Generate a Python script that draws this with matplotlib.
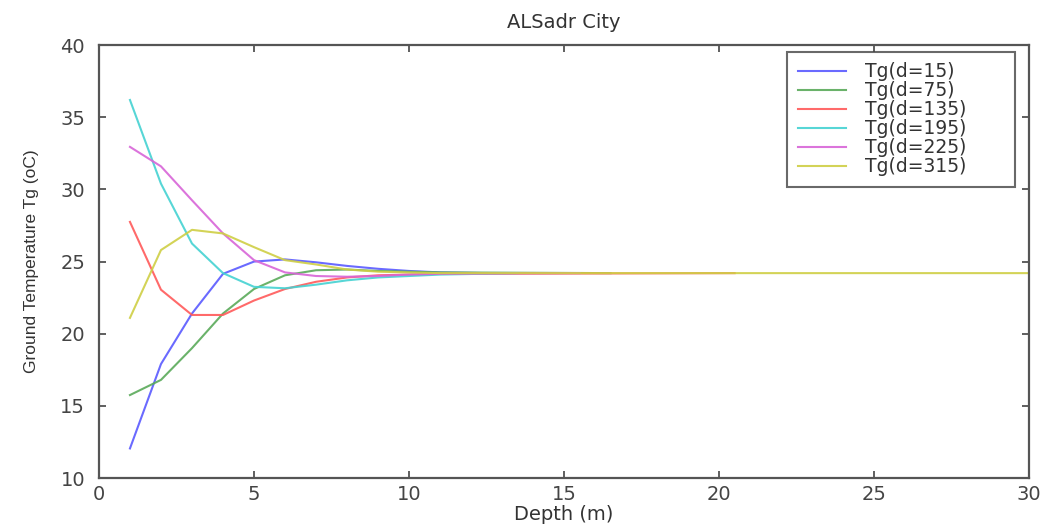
import matplotlib
matplotlib.use("Agg")
import matplotlib.pyplot as plt

plt.rcParams["font.family"] = ["DejaVu Sans"]

# Ground temperature (oC) vs depth (m)
labels = ["Tg(d=15)", "Tg(d=75)", "Tg(d=135)", "Tg(d=195)", "Tg(d=225)", "Tg(d=315)"]
colors = ["#5a5aff", "#5aaa5a", "#ff5a5a", "#45d2d2", "#d865d8", "#cfcf45"]

depth_d15 = [1, 2, 3, 4, 5, 6, 7, 8, 9, 10, 11, 12.5]
tg_d15 = [12.05, 17.9, 21.4, 24.15, 25.0, 25.15, 24.95, 24.7, 24.5, 24.35, 24.25, 24.2]

depth_d75 = [1, 2, 3, 4, 5, 6, 7, 8, 9, 10, 11, 16.5]
tg_d75 = [15.75, 16.8, 19.0, 21.4, 23.1, 24.05, 24.4, 24.45, 24.35, 24.3, 24.25, 24.2]

depth_d135 = [1, 2, 3, 4, 5, 6, 7, 8, 9, 10, 11, 20.5]
tg_d135 = [27.75, 23.05, 21.3, 21.3, 22.3, 23.1, 23.6, 23.9, 24.05, 24.1, 24.15, 24.2]

depth_d195 = [1, 2, 3, 4, 5, 6, 7, 8, 9, 10, 11, 13.5]
tg_d195 = [36.2, 30.4, 26.25, 24.2, 23.25, 23.15, 23.4, 23.7, 23.9, 24.0, 24.1, 24.2]

depth_d225 = [1, 2, 3, 4, 5, 6, 7, 8, 9, 10, 11, 15.5]
tg_d225 = [32.95, 31.6, 29.25, 26.95, 25.1, 24.25, 24.0, 23.95, 24.0, 24.1, 24.15, 24.2]

depth_d315 = [1, 2, 3, 4, 5, 6, 7, 8, 9, 10, 11, 30]
tg_d315 = [21.1, 25.8, 27.2, 26.95, 26.0, 25.1, 24.8, 24.45, 24.3, 24.25, 24.2, 24.2]

series = [
    (depth_d15, tg_d15),
    (depth_d75, tg_d75),
    (depth_d135, tg_d135),
    (depth_d195, tg_d195),
    (depth_d225, tg_d225),
    (depth_d315, tg_d315),
]

fig = plt.figure(figsize=(10.46, 5.25), dpi=100)
ax = fig.add_axes([0.0946, 0.0895, 0.8894, 0.8245])

for (x, y), lab, col in zip(series, labels, colors):
    ax.plot(x, y, color=col, lw=1.5, label=lab, alpha=0.9)

ax.set_xlim(0, 30)
ax.set_ylim(10, 40)
ax.set_xticks(range(0, 31, 5))
ax.set_yticks(range(10, 41, 5))
ax.tick_params(direction="in", top=True, right=True, length=5, width=1.2,
               labelsize=14, colors="#444444")
ax.tick_params(axis="y", pad=10)
ax.tick_params(axis="x", pad=5)
for s in ax.spines.values():
    s.set_color("#555555")
    s.set_linewidth(1.6)

ax.set_title("ALSadr City", fontsize=14, color="#333333", pad=12)
ax.set_xlabel("Depth (m)", fontsize=14, color="#333333", labelpad=1)
ax.set_ylabel("Ground Temperature Tg (oC)", fontsize=12.5,
              family=["Liberation Sans Narrow", "Liberation Sans", "DejaVu Sans"],
              color="#333333", labelpad=15)

# legend box spans a fixed region in the upper right corner
leg = ax.legend(loc="upper left", bbox_to_anchor=(0.7398, 0.5, 0.2452, 0.4838),
                mode="expand", fontsize=13.5,
                frameon=True, fancybox=False, handlelength=2.6, handletextpad=1.0,
                labelspacing=0.0, borderpad=0.55, borderaxespad=0)
leg.get_frame().set_edgecolor("#444444")
leg.get_frame().set_linewidth(1.5)
for t in leg.get_texts():
    t.set_color("#333333")

fig.savefig("out.png", dpi=100)
